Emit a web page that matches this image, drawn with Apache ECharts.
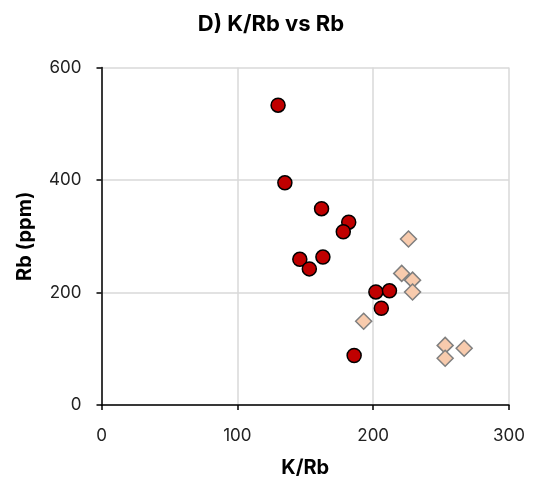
<!DOCTYPE html>
<html><head><meta charset="utf-8">
<script src="https://cdn.jsdelivr.net/npm/echarts@6/dist/echarts.min.js"></script>
<style>html,body{margin:0;padding:0;background:#fff}#c{width:537px;height:483px}</style>
</head><body><div id="c"></div>
<script>
const titleText = 'D) K/Rb vs Rb';
const xName = 'K/Rb';
const yName = 'Rb (ppm)';
const xTicks = [0, 100, 200, 300];
const yTicks = [0, 200, 400, 600];
// Group 1 (red circles): [K/Rb, Rb]
const circleKRb = [130, 135, 162, 182, 178, 146, 163, 153, 202, 212, 206, 186];
const circleRb  = [533, 395, 349, 325, 308, 259, 263, 242, 201, 203, 172, 88];
// Group 2 (peach diamonds)
const diamondKRb = [226, 221, 229, 229, 193, 253, 267, 253];
const diamondRb  = [295, 234, 222, 201, 149, 106, 101, 83];

const font = 'Inter, "Open Sans", sans-serif';
const chart = echarts.init(document.getElementById('c'), null, {renderer: 'canvas'});
chart.setOption({
  animation: false,
  title: {text: titleText, left: 266, top: 8, textAlign: 'center',
    textStyle: {fontFamily: font, fontSize: 22, fontWeight: 'bold', color: '#000'}},
  grid: {left: 101.5, right: 28, top: 67.5, bottom: 76.5, containLabel: false},
  xAxis: {type: 'value', min: xTicks[0], max: xTicks[xTicks.length-1], interval: 100,
    name: xName, nameLocation: 'middle', nameGap: 53,
    nameTextStyle: {fontFamily: font, fontSize: 20, fontWeight: 'bold', color: '#000'},
    axisLine: {show: true, onZero: false, lineStyle: {color: '#000', width: 1.5}},
    axisTick: {show: true, length: 5, lineStyle: {color: '#000', width: 1.5}},
    axisLabel: {fontFamily: font, fontSize: 17, color: '#222', margin: 22},
    splitLine: {show: true, lineStyle: {color: '#d9d9d9', width: 1.5}}},
  yAxis: {type: 'value', min: yTicks[0], max: yTicks[yTicks.length-1], interval: 200,
    name: yName, nameLocation: 'middle', nameGap: 67, nameRotate: 90,
    nameTextStyle: {fontFamily: font, fontSize: 20, fontWeight: 'bold', color: '#000'},
    axisLine: {show: true, onZero: false, lineStyle: {color: '#000', width: 1.5}},
    axisTick: {show: true, length: 5, lineStyle: {color: '#000', width: 1.5}},
    axisLabel: {fontFamily: font, fontSize: 17, color: '#222', margin: 20},
    splitLine: {show: true, lineStyle: {color: '#d9d9d9', width: 1.5}}},
  series: [
    {type: 'scatter', symbol: 'circle', symbolSize: 14,
     data: circleKRb.map((x, i) => [x, circleRb[i]]),
     itemStyle: {color: '#c00000', borderColor: '#000', borderWidth: 1.5, opacity: 1}},
    {type: 'scatter', symbol: 'diamond', symbolSize: 16,
     data: diamondKRb.map((x, i) => [x, diamondRb[i]]),
     itemStyle: {color: '#f8cbad', borderColor: '#7f7f7f', borderWidth: 1.5, opacity: 1}}
  ]
});
</script></body></html>
